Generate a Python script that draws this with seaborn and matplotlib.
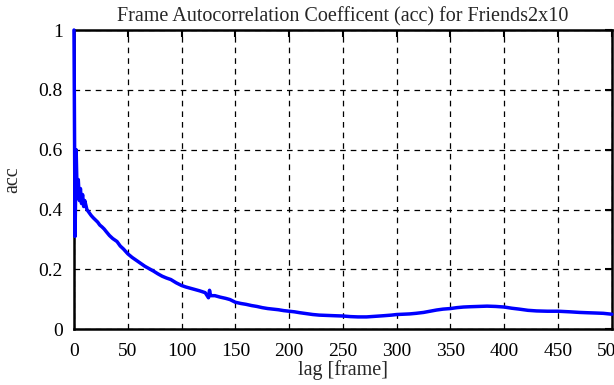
# %%
import numpy as np
import pandas as pd
import seaborn as sns
import matplotlib.pyplot as plt

sns.set_style("white")
plt.rcParams["font.family"] = ["Liberation Serif", "DejaVu Serif"]

# %%
# autocorrelation values, lag in frames
lag = [0, 1, 2, 3, 4, 5, 6, 7, 8, 9, 10, 12, 14, 16, 18, 20, 22, 24, 26, 28,
       30, 33, 36, 40, 43, 46, 50, 54, 58, 62, 66, 70, 74, 78, 82, 86, 90, 95,
       100, 104, 108, 112, 117, 122, 125, 126, 127, 131, 136, 141, 145, 150,
       155, 160, 165, 170, 175, 180, 185, 190, 195, 200, 205, 210, 216, 222,
       228, 235, 242, 250, 257, 264, 272, 280, 288, 295, 300, 306, 312, 318,
       325, 331, 337, 343, 350, 356, 362, 368, 376, 384, 392, 400, 407, 414,
       422, 430, 440, 450, 461, 470, 477, 485, 492, 500]
acc = [1.00, 0.31, 0.60, 0.44, 0.50, 0.43, 0.47, 0.42, 0.45, 0.41, 0.43, 0.40,
       0.39, 0.38, 0.372, 0.365, 0.358, 0.348, 0.342, 0.335, 0.326, 0.313,
       0.303, 0.293, 0.278, 0.268, 0.252, 0.240, 0.230, 0.220, 0.210, 0.202,
       0.194, 0.185, 0.177, 0.171, 0.166, 0.155, 0.146, 0.141, 0.137, 0.133,
       0.128, 0.122, 0.105, 0.130, 0.112, 0.112, 0.107, 0.103, 0.099, 0.090,
       0.086, 0.083, 0.079, 0.076, 0.072, 0.069, 0.067, 0.065, 0.062, 0.060,
       0.058, 0.055, 0.052, 0.049, 0.047, 0.046, 0.045, 0.044, 0.042, 0.041,
       0.041, 0.043, 0.045, 0.047, 0.049, 0.050, 0.051, 0.053, 0.056, 0.060,
       0.064, 0.067, 0.069, 0.072, 0.074, 0.075, 0.076, 0.077, 0.076, 0.074,
       0.070, 0.067, 0.063, 0.061, 0.060, 0.060, 0.058, 0.056, 0.055, 0.054,
       0.053, 0.050]

xticks = [0, 50, 100, 150, 200, 250, 300, 350, 400, 450, 500]
yticks = [0, 0.2, 0.4, 0.6, 0.8, 1]
ytick_labels = ["0", "0.2", "0.4", "0.6", "0.8", "1"]

df = pd.DataFrame({"lag": lag, "acc": acc})

# %%
fig = plt.figure(figsize=(6.14, 3.85), dpi=100)
ax = fig.add_axes([0.1205, 0.145, 0.876, 0.777])

sns.lineplot(data=df, x="lag", y="acc", color="#0000ff", linewidth=2.5, ax=ax,
             zorder=5, clip_on=False)

ax.set_xlim(0, 500)
ax.set_ylim(0, 1)
ax.set_xticks(xticks)
ax.set_yticks(yticks, ytick_labels)
ax.grid(True, color="k", linestyle=(0, (4.5, 4)), linewidth=0.9)
ax.tick_params(direction="in", length=5, width=1.5, top=True, right=True,
               labelsize=14, colors="k")
ax.tick_params(axis="x", pad=10)
ax.tick_params(axis="y", pad=8)
for s in ax.spines.values():
    s.set_linewidth(1.8)
    s.set_color("k")

ax.set_title("Frame Autocorrelation Coefficent (acc) for Friends2x10",
             fontsize=14.5, pad=6)
ax.set_xlabel("lag [frame]", fontsize=14.5, labelpad=0)
ax.set_ylabel("acc", fontsize=14.5, labelpad=12)

fig.savefig("out.png", dpi=100)
